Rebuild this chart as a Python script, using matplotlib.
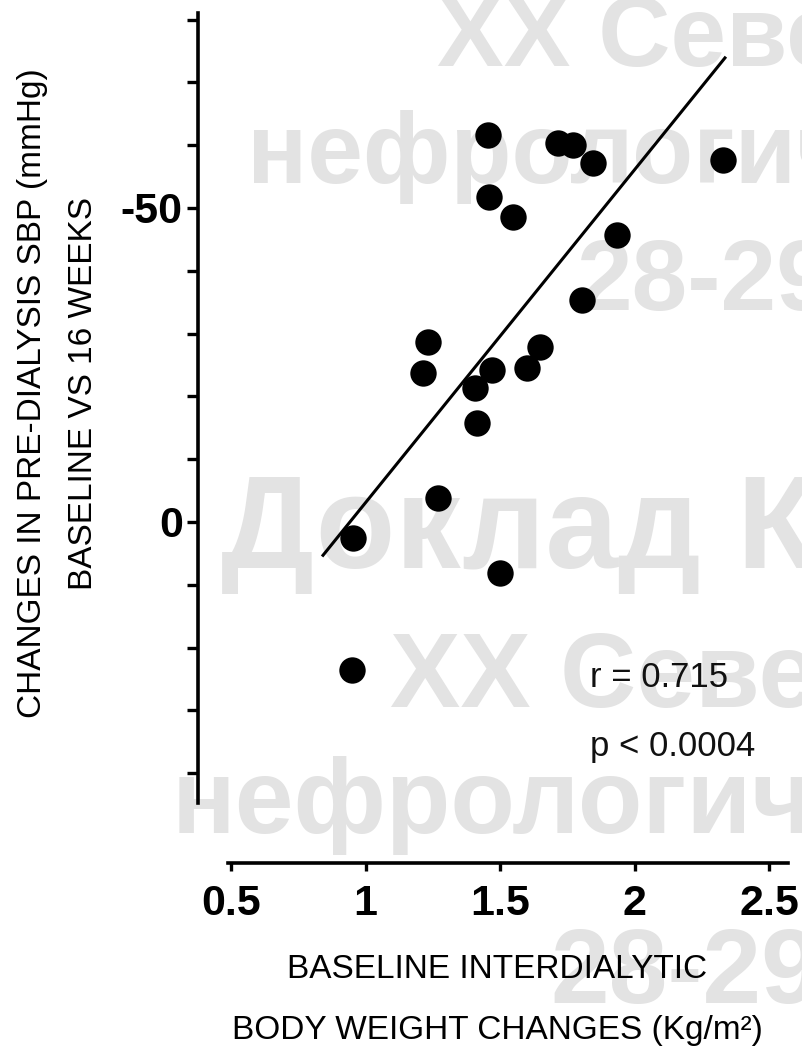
"""
Scatter of baseline interdialytic weight gain vs change in pre-dialysis SBP.
"""
import matplotlib
matplotlib.use('Agg')
import matplotlib.pyplot as plt

# Data
weight_change = [1.455, 1.716, 1.771, 1.846, 2.329, 1.459, 1.548, 1.935, 1.805,
                 1.232, 1.214, 1.470, 1.407, 1.649, 1.600, 1.414, 1.270, 0.954,
                 1.500, 0.950]
sbp_change = [-61.6, -60.4, -60.0, -57.2, -57.6, -51.8, -48.6, -45.7, -35.4,
              -28.7, -23.7, -24.2, -21.3, -27.9, -24.5, -15.8, -3.8, 2.5,
              8.1, 23.6]

# Regression line end points
fit_x = [0.842, 2.336]
fit_y = [5.3, -73.9]

x_ticks = [0.5, 1, 1.5, 2, 2.5]
x_tick_labels = ['0.5', '1', '1.5', '2', '2.5']
y_ticks = [-50, 0]
y_tick_labels = ['-50', '0']
y_minor_ticks = [-80, -70, -60, -40, -30, -20, -10, 10, 20, 30, 40]

stats_lines = ['r = 0.715', 'p < 0.0004']

# Watermark (text, x px, baseline px, size)
watermark = [
    ('XX Северо-Западная', 437, 66, 72),
    ('нефрологическая', 247, 183, 72),
    ('28-29', 577, 310, 72),
    ('Доклад Конференции', 221, 568, 94),
    ('XX Северо-Западная', 390, 707, 76),
    ('нефрологическая', 172, 833, 76),
    ('28-29', 550, 1003, 76),
]

plt.rcParams['font.family'] = ['Liberation Sans', 'DejaVu Sans']
plt.rcParams['axes.unicode_minus'] = False

W, H = 802, 1057
fig = plt.figure(figsize=(W / 100, H / 100), dpi=100)

# Marca de agua por debajo de todo
for texto, px, py, size in watermark:
    fig.text(px / W, 1 - py / H, texto, fontsize=size, fontweight='bold',
             color='#e3e3e3', ha='left', va='baseline', zorder=-5)

ax = fig.add_axes([198 / W, 194 / H, (800 - 198) / W, 850 / H])
ax.patch.set_visible(False)

ax.plot(weight_change, sbp_change, 'o', color='black', markersize=19,
        markeredgewidth=0, zorder=3)
ax.plot(fit_x, fit_y, color='black', linewidth=2.2, zorder=2)

ax.set_xlim(0.3773, 2.615)
ax.set_ylim(54.3, -81.05)

ax.spines['top'].set_visible(False)
ax.spines['right'].set_visible(False)
ax.spines['left'].set_linewidth(2.6)
ax.spines['bottom'].set_linewidth(2.6)
ax.spines['left'].set_bounds(-81, 44.7)
ax.spines['bottom'].set_bounds(0.49, 2.57)

ax.set_xticks(x_ticks)
ax.set_xticklabels(x_tick_labels)
ax.set_yticks(y_ticks)
ax.set_yticklabels(y_tick_labels)
ax.set_yticks(y_minor_ticks, minor=True)

ax.tick_params(axis='x', direction='out', length=6, width=2.4, pad=9,
               labelsize=31)
ax.tick_params(axis='y', which='both', direction='out', length=8, width=2.4,
               pad=3, labelsize=31)
for lbl in ax.get_xticklabels() + ax.get_yticklabels():
    lbl.set_fontweight('bold')

for i, texto in enumerate(stats_lines):
    ax.text(1.835, 24.7 + i * 11.0, texto, fontsize=25, ha='left',
            va='center', color='#111111')

# Etiquetas de los ejes
fig.text(33 / W, 1 - 393 / H, 'CHANGES IN PRE-DIALYSIS SBP (mmHg)',
         rotation=90, fontsize=24, ha='center', va='center')
fig.text(84 / W, 1 - 393 / H, 'BASELINE VS 16 WEEKS',
         rotation=90, fontsize=24, ha='center', va='center')
fig.text(497 / W, 1 - 970 / H, 'BASELINE INTERDIALYTIC',
         fontsize=24, ha='center', va='center')
fig.text(497 / W, 1 - 1030 / H, 'BODY WEIGHT CHANGES (Kg/m²)',
         fontsize=24, ha='center', va='center')

fig.savefig('out.png', dpi=100)
